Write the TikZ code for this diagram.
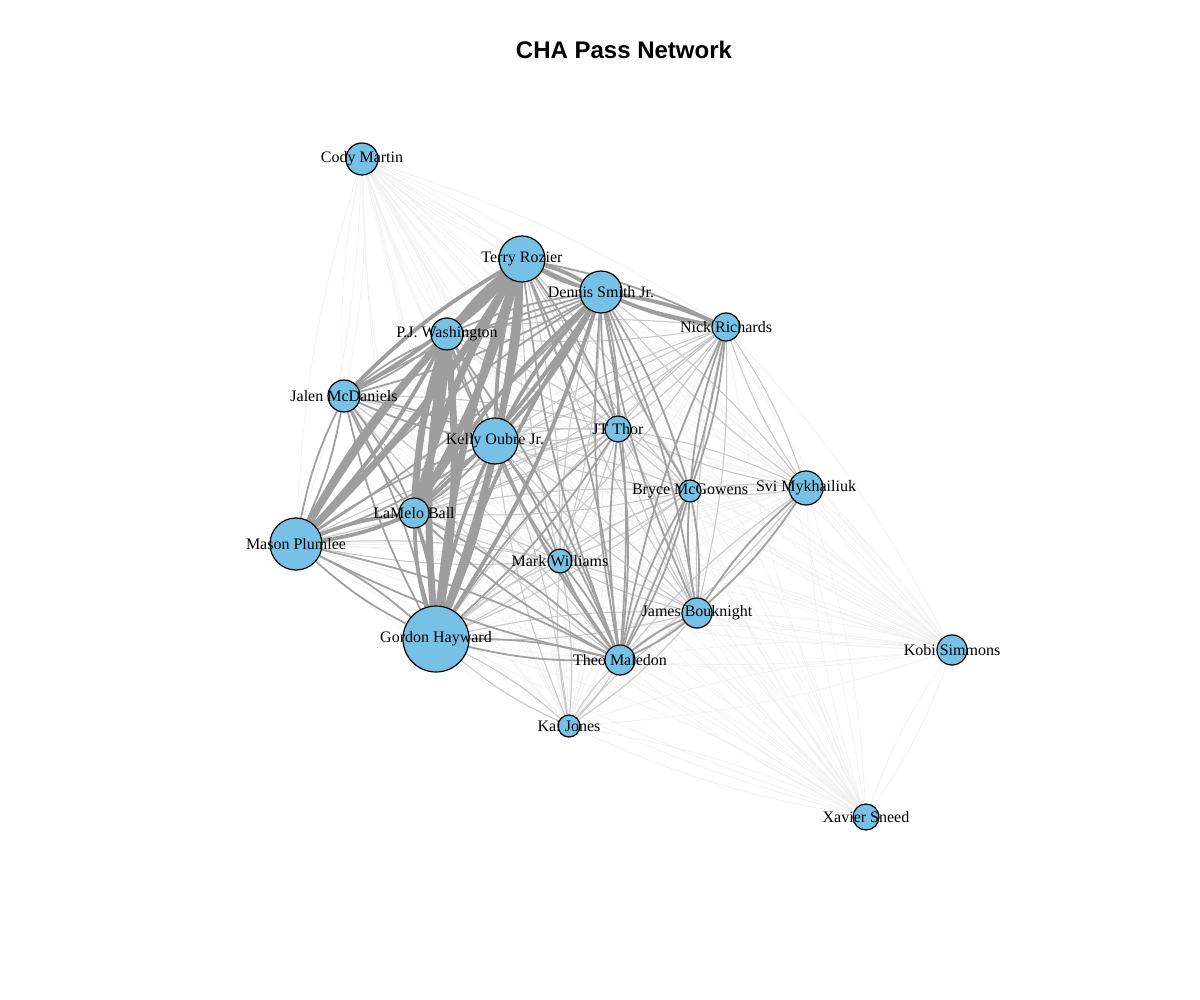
\documentclass[tikz,border=0pt]{standalone}
\usepackage{fontspec}
\setmainfont{Liberation Serif}
\newfontfamily\titlefont{Liberation Sans}
\definecolor{skyfill}{RGB}{118,193,229}
\pgfdeclarelayer{bg}
\pgfsetlayers{bg,main}
\tikzset{
  player/.style={circle, draw=black, line width=0.6pt, fill=skyfill, inner sep=0pt},
  tag/.style={font=\fontsize{8}{9}\selectfont, inner sep=0pt},
  p1/.style={draw=black!6, line width=0.35pt},
  p2/.style={draw=black!22, line width=0.5pt},
  p3/.style={draw=black!37, line width=0.9pt},
  p4/.style={draw=black!38, line width=1.9pt},
  p5/.style={draw=black!38, line width=3.5pt}
}
\def\squad{martin,rozier,smith,richards,washington,mcdaniels,oubre,thor,mcgowens,mykhailiuk,ball,plumlee,williams,bouknight,hayward,maledon,simmons,jones,sneed}

\begin{document}
\begin{tikzpicture}[x=0.5pt, y=-0.5pt]
\useasboundingbox (0,0) rectangle (1200,1000);
\node[font=\titlefont\bfseries\fontsize{12}{14}\selectfont] (title) at (624,50) {CHA Pass Network};
% Players
    \node[player, minimum size=16pt, label={[tag]center:Cody Martin}] (martin) at (362,159) {};
    \node[player, minimum size=23pt, label={[tag]center:Terry Rozier}] (rozier) at (522,259) {};
    \node[player, minimum size=21pt, label={[tag]center:Dennis Smith Jr.}] (smith) at (601,292) {};
    \node[player, minimum size=14pt, label={[tag]center:Nick Richards}] (richards) at (726,327) {};
    \node[player, minimum size=16pt, label={[tag]center:P.J. Washington}] (washington) at (447,334) {};
    \node[player, minimum size=16pt, label={[tag]center:Jalen McDaniels}] (mcdaniels) at (344,396) {};
    \node[player, minimum size=23pt, label={[tag]center:Kelly Oubre Jr.}] (oubre) at (495,441) {};
    \node[player, minimum size=13pt, label={[tag]center:JT Thor}] (thor) at (618,429) {};
    \node[player, minimum size=11pt, label={[tag]center:Bryce McGowens}] (mcgowens) at (690,491) {};
    \node[player, minimum size=17pt, label={[tag]center:Svi Mykhailiuk}] (mykhailiuk) at (806,488) {};
    \node[player, minimum size=15pt, label={[tag]center:LaMelo Ball}] (ball) at (414,513) {};
    \node[player, minimum size=26pt, label={[tag]center:Mason Plumlee}] (plumlee) at (296,544) {};
    \node[player, minimum size=12pt, label={[tag]center:Mark Williams}] (williams) at (560,561) {};
    \node[player, minimum size=15pt, label={[tag]center:James Bouknight}] (bouknight) at (697,613) {};
    \node[player, minimum size=33pt, label={[tag]center:Gordon Hayward}] (hayward) at (436,639) {};
    \node[player, minimum size=15pt, label={[tag]center:Theo Maledon}] (maledon) at (620,660) {};
    \node[player, minimum size=15pt, label={[tag]center:Kobi Simmons}] (simmons) at (952,650) {};
    \node[player, minimum size=11pt, label={[tag]center:Kai Jones}] (jones) at (569,726) {};
    \node[player, minimum size=13pt, label={[tag]center:Xavier Sneed}] (sneed) at (866,817) {};
\begin{pgfonlayer}{bg}
% Rare passes, every pair both ways
    \foreach \a [count=\i] in \squad {
      \foreach \b [count=\j] in \squad {
        \ifnum\i<\j
          \draw[p1] (\a) to[bend left=7] (\b) (\b) to[bend left=7] (\a);
        \fi
      }
    }
% Occasional passes
    \foreach \a/\b in {thor/rozier, thor/oubre, thor/washington, thor/ball, thor/plumlee, thor/mcdaniels,
        thor/mcgowens, thor/williams, thor/bouknight, thor/richards, williams/oubre, williams/ball,
        williams/smith, williams/rozier, williams/hayward, williams/plumlee, williams/bouknight,
        mcgowens/rozier, mcgowens/oubre, mcgowens/ball, mcgowens/hayward, mcgowens/williams,
        mykhailiuk/maledon, mykhailiuk/richards, mykhailiuk/mcgowens, mykhailiuk/thor, mykhailiuk/smith,
        jones/maledon, jones/williams, jones/bouknight, jones/hayward, jones/oubre,
        richards/washington, richards/oubre, richards/ball, richards/bouknight, richards/hayward,
        bouknight/oubre, bouknight/rozier, bouknight/hayward, mcdaniels/maledon}
      \draw[p2] (\a) to[bend left=7] (\b) (\b) to[bend left=7] (\a);
% Regular passes
    \foreach \a/\b in {smith/washington, smith/plumlee, smith/mcdaniels, oubre/ball, oubre/plumlee,
        plumlee/hayward, mcdaniels/plumlee, mcdaniels/washington, mcdaniels/ball, mcdaniels/hayward,
        oubre/maledon, hayward/maledon, smith/maledon, rozier/maledon, maledon/mcgowens,
        maledon/bouknight, maledon/thor, oubre/washington, rozier/richards, smith/thor, ball/maledon,
        plumlee/maledon, washington/maledon, mcdaniels/oubre, smith/mcgowens, rozier/thor,
        mykhailiuk/bouknight, williams/maledon, thor/hayward, richards/maledon, richards/mcgowens,
        mcgowens/bouknight, smith/bouknight, oubre/williams}
      \draw[p3] (\a) to[bend left=7] (\b) (\b) to[bend left=7] (\a);
% Frequent passes
    \foreach \a/\b in {rozier/oubre, rozier/washington, rozier/smith, rozier/mcdaniels, smith/hayward,
        oubre/hayward, ball/plumlee, washington/plumlee, ball/hayward, smith/ball, smith/oubre,
        smith/richards}
      \draw[p4] (\a) to[bend left=7] (\b) (\b) to[bend left=7] (\a);
% Main passing lanes
    \foreach \a/\b in {rozier/ball, washington/ball, rozier/plumlee, rozier/hayward, washington/hayward}
      \draw[p5] (\a) to[bend left=7] (\b) (\b) to[bend left=7] (\a);
\end{pgfonlayer}
\end{tikzpicture}
\end{document}
